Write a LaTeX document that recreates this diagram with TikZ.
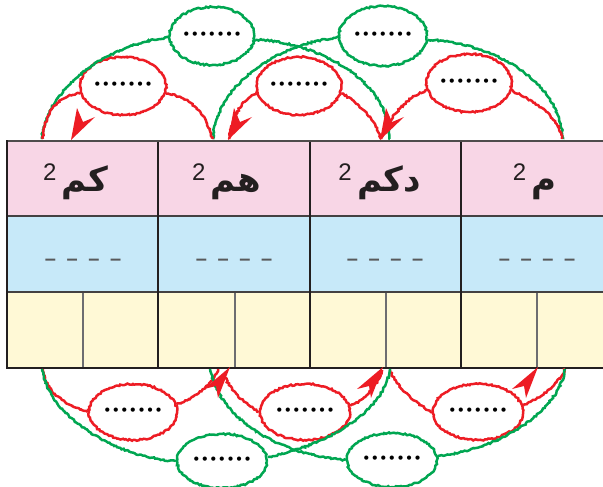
\documentclass[tikz,border=0pt]{standalone}
\usepackage{fontspec}
\setmainfont{Liberation Sans}
\newfontfamily\arfont[Script=Arabic]{DejaVu Sans}
\newfontfamily\dotfont{DejaVu Sans}
\TeXXeTstate=1
\usetikzlibrary{shapes.geometric,decorations.pathmorphing}
\definecolor{cred}{HTML}{ED1C24}
\definecolor{cgreen}{HTML}{00A651}
\definecolor{cpink}{HTML}{F8D6E6}
\definecolor{cblue}{HTML}{C7E9F9}
\definecolor{cyel}{HTML}{FFF9D6}
\definecolor{cline}{HTML}{231F20}
\definecolor{cgray}{HTML}{6D6E71}
\definecolor{cdash}{HTML}{58595B}
\tikzset{
  rough/.style={decorate,decoration={random steps,segment length=1.8pt,amplitude=0.8pt}},
  ell/.style={ellipse,draw,rough,line width=2.5pt,inner sep=0pt,font=\dotfont\fontsize{14.5}{14.5}\selectfont},
  redell/.style={ell,draw=cred},
  greenell/.style={ell,draw=cgreen},
  redarc/.style={draw=cred,line width=2.5pt,rough},
  greenarc/.style={draw=cgreen,line width=2.5pt,rough},
  arw/.style={anchor=base,inner sep=0pt,font=\arfont\bfseries\fontsize{34}{34}\selectfont,text=cline},
  sq/.style={anchor=base east,inner sep=0pt,font=\fontsize{24}{24}\selectfont,text=cline},
  blanks/.style={inner sep=0pt,font=\bfseries\fontsize{20}{20}\selectfont,text=cdash},
  tipfill/.style={fill=cred}
}
\begin{document}
\begin{tikzpicture}[x=1pt,y=-1pt]
\useasboundingbox (0,0) rectangle (603,487);
% table fills
\fill[cpink] (7,141) rectangle (604,216);
\fill[cblue] (7,216) rectangle (604,292);
\fill[cyel] (7,292) rectangle (604,368);
% inner lines
\draw[cgray,line width=1.2pt] (83,292) -- (83,368) (235,292) -- (235,368) (386,292) -- (386,368) (537,292) -- (537,368);
\draw[cline!85,line width=1.6pt] (7,216) -- (604,216) (7,292) -- (604,292);
\draw[cline,line width=2.2pt] (158,141) -- (158,368) (310,141) -- (310,368) (461,141) -- (461,368);
\draw[cline!80,line width=2pt] (6,141) -- (604,141);
\draw[cline,line width=2.6pt] (7,140) -- (7,369);
\draw[cline,line width=2.6pt] (6,368) -- (604,368);

% headings
\node[arw] (w1) at (85,191) {\beginR كم\endR};
\node[sq] (s1) at ([shift={(-5,-11)}]w1.base west) {2};
\node[arw] (w2) at (236,191) {\beginR هم\endR};
\node[sq] (s2) at ([shift={(-5,-11)}]w2.base west) {2};
\node[arw] (w3) at (389,191) {\beginR دكم\endR};
\node[sq] (s3) at ([shift={(-5,-11)}]w3.base west) {2};
\node[arw] (w4) at (544,191) {\beginR م\endR};
\node[sq] (s4) at ([shift={(-5,-11)}]w4.base west) {2};

% blanks
\foreach \i/\x in {1/83,2/234,3/385,4/537}{
  \node[blanks] (b\i) at (\x,262) {\spaceskip=10.6pt – – – –};
}

% top ellipses
\node[redell,minimum width=86pt,minimum height=58pt] (r1) at (123,86) {•••••••};
\node[redell,minimum width=80pt,minimum height=58pt] (r2) at (299,86) {•••••••};
\node[redell,minimum width=82pt,minimum height=58pt] (r3) at (469,83) {•••••••};
\node[greenell,minimum width=84pt,minimum height=58pt] (g1) at (212,36) {•••••••};
\node[greenell,minimum width=88pt,minimum height=60pt] (g2) at (383,36) {•••••••};
% bottom ellipses
\node[redell,minimum width=88pt,minimum height=56pt] (rb1) at (133,412) {•••••••};
\node[redell,minimum width=90pt,minimum height=56pt] (rb2) at (305,412) {•••••••};
\node[redell,minimum width=90pt,minimum height=56pt] (rb3) at (478,412) {•••••••};
\node[greenell,minimum width=90pt,minimum height=54pt] (gb1) at (222,461) {•••••••};
\node[greenell,minimum width=90pt,minimum height=54pt] (gb2) at (392,460) {•••••••};

% end coordinates on the table
\coordinate (ta) at (43,139);
\coordinate (tb) at (212,139);
\coordinate (tc) at (229,139);
\coordinate (td) at (381,139);
\coordinate (te) at (562,139);
\coordinate (tg1) at (42,139);
\coordinate (tg2) at (390,139);
\coordinate (tg3) at (213,139);
\coordinate (tg4) at (563,139);
\coordinate (ba) at (43,369);
\coordinate (bb) at (218,369);
\coordinate (bc) at (224,374);
\coordinate (bd) at (382,370);
\coordinate (be) at (390,370);
\coordinate (bf) at (565,369);
\coordinate (bg1) at (42,369);
\coordinate (bg2) at (390,369);
\coordinate (bg3) at (210,369);
\coordinate (bg4) at (565,369);

% top green arcs
\path[greenarc] (tg1) .. controls (44,95) and (100,45) .. (g1.182);
\path[greenarc] (g1.355) .. controls (300,40) and (388,70) .. (tg2);
\path[greenarc] (tg3) .. controls (215,90) and (270,45) .. (g2.182);
\path[greenarc] (g2.355) .. controls (480,40) and (560,75) .. (tg4);
% top red arcs
\path[redarc] (ta) .. controls (44,112) and (60,94) .. (r1.190);
\path[redarc] (r1.350) .. controls (190,96) and (208,115) .. (tb);
\path[redarc] (r2.190) .. controls (245,96) and (232,115) .. (tc);
\path[redarc] (r2.350) .. controls (345,95) and (372,110) .. (td);
\path[redarc] (r3.190) .. controls (410,95) and (390,115) .. (td);
\path[redarc] (r3.350) .. controls (520,95) and (558,110) .. (te);
% bottom red arcs
\path[redarc] (ba) .. controls (45,392) and (65,405) .. (rb1.180);
\path[redarc] (rb1.10) .. controls (195,398) and (212,385) .. (bb);
\path[redarc] (bc) .. controls (230,392) and (245,403) .. (rb2.180);
\path[redarc] (rb2.8) .. controls (365,400) and (378,385) .. (bd);
\path[redarc] (be) .. controls (395,385) and (415,403) .. (rb3.180);
\path[redarc] (rb3.8) .. controls (540,398) and (558,385) .. (bf);
% bottom green arcs
\path[greenarc] (bg1) .. controls (50,420) and (120,458) .. (gb1.180);
\path[greenarc] (gb1.5) .. controls (330,445) and (385,410) .. (bg2);
\path[greenarc] (bg3) .. controls (220,420) and (280,455) .. (gb2.180);
\path[greenarc] (gb2.5) .. controls (500,450) and (560,410) .. (bg4);

% arrowheads
\foreach \x in {71,228,380}{
  \fill[tipfill] (\x,140) -- ++(6,-32) -- ++(6,14) -- ++(12,-5) -- cycle;
}
\foreach \x in {230,383,538}{
  \fill[tipfill] (\x,367) -- ++(-26,22) -- ++(12,-3) -- ++(2,12) -- cycle;
}
\end{tikzpicture}
\end{document}
